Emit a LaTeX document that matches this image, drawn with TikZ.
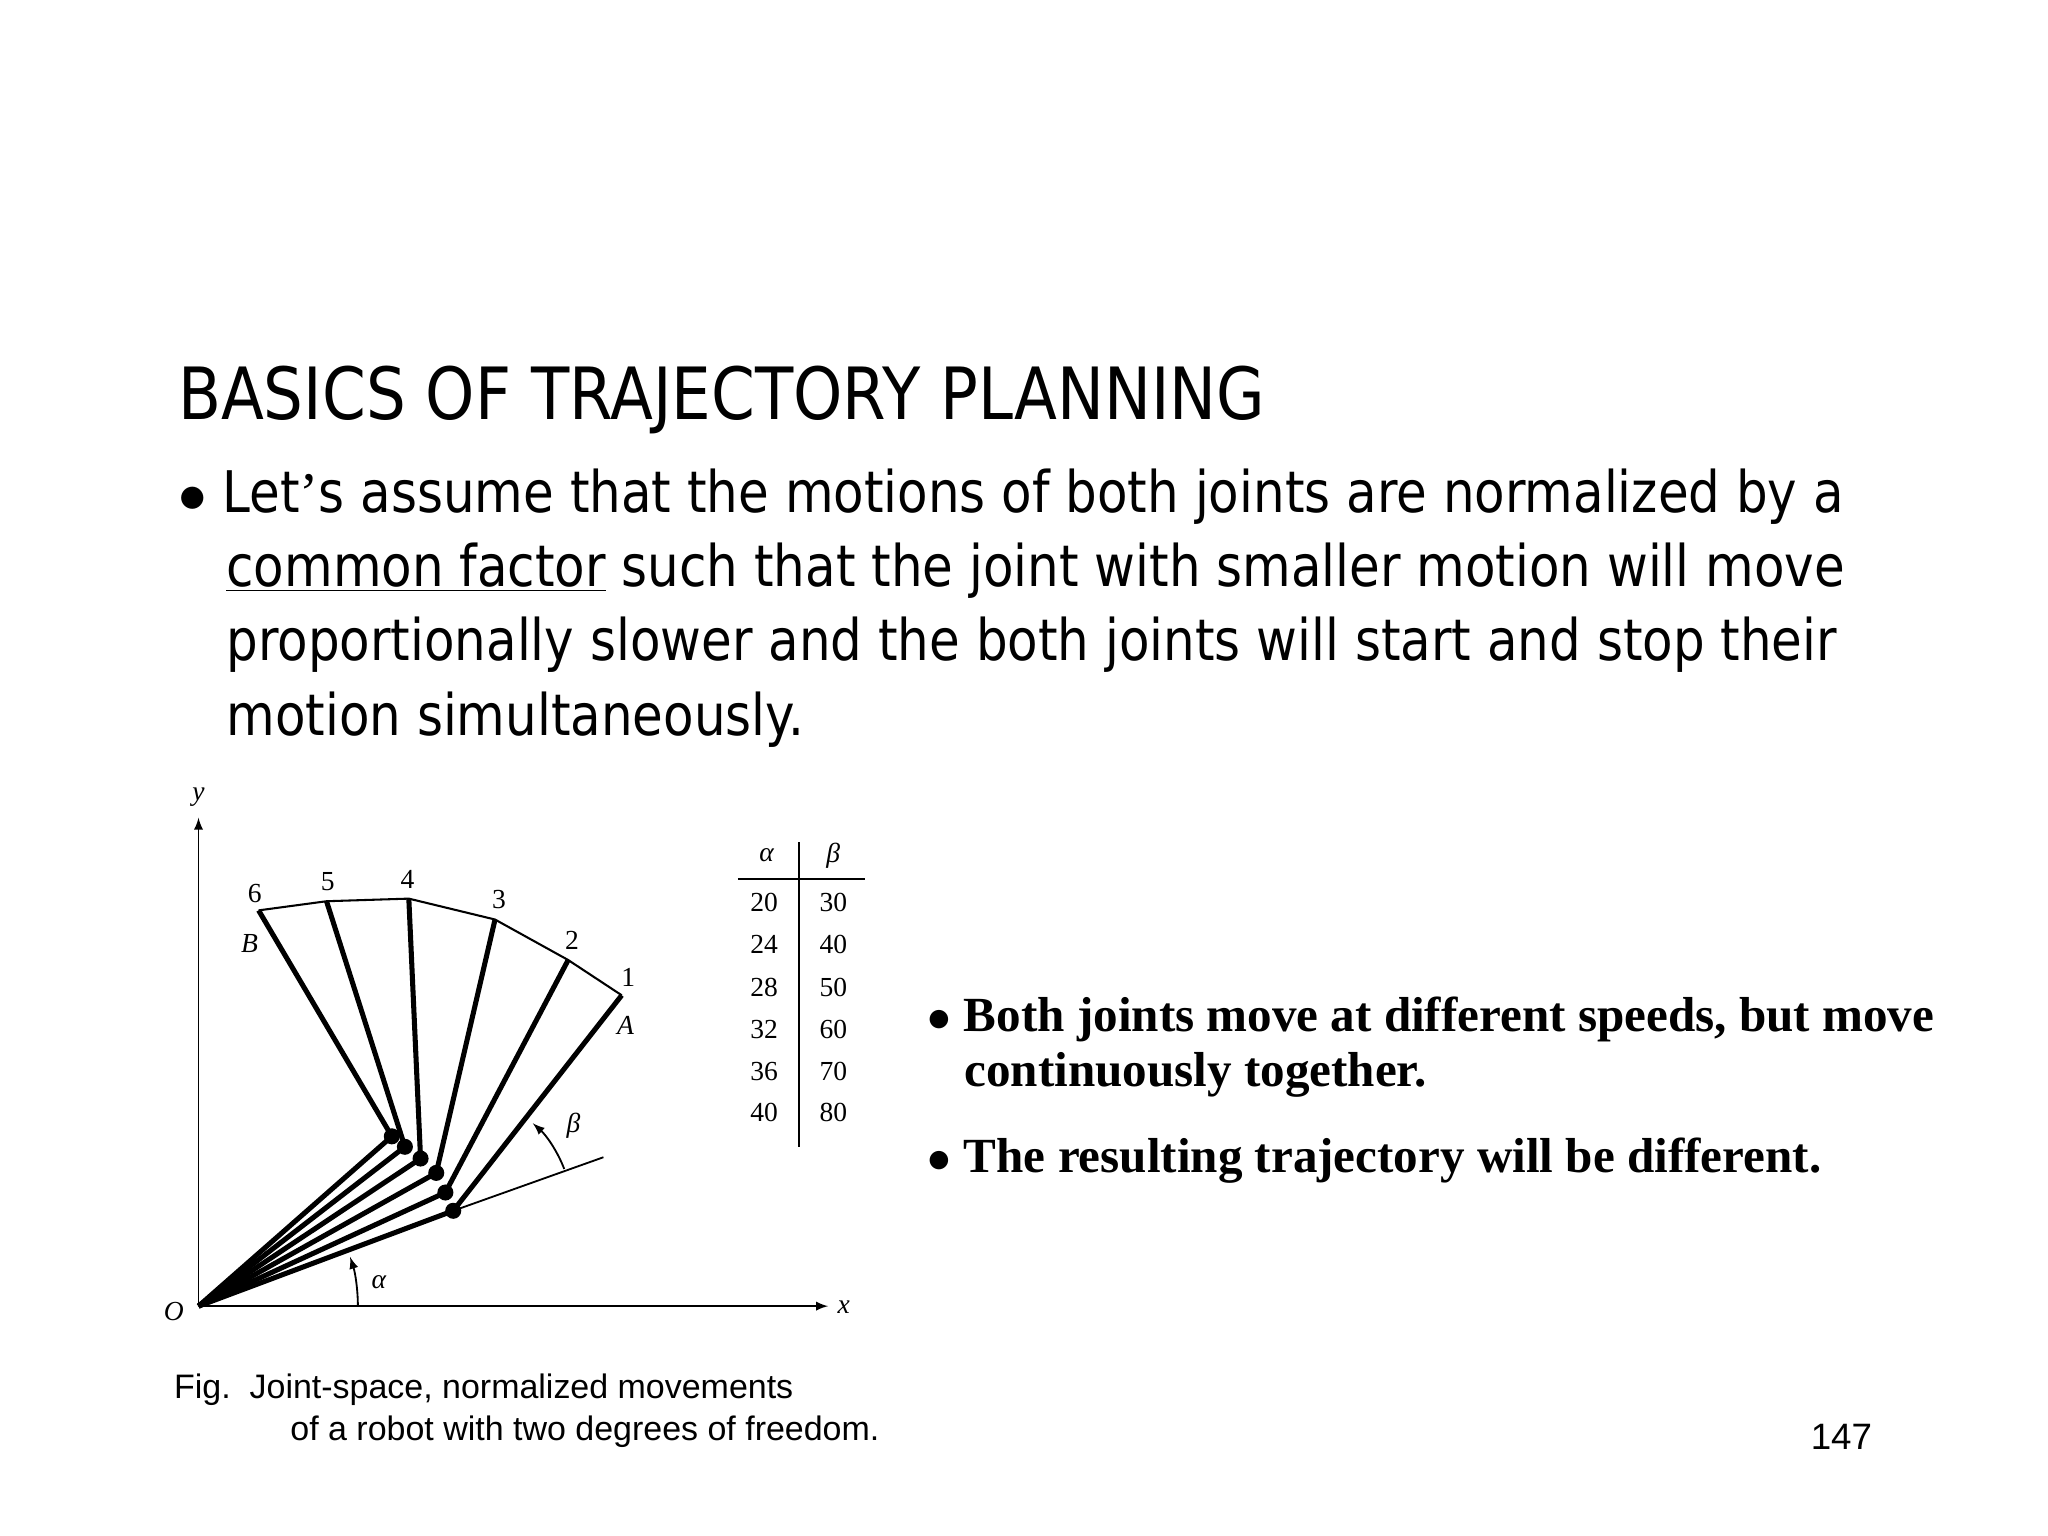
\documentclass[tikz,border=0pt]{standalone}
\usepackage{fontspec}
\setmainfont{DejaVu Sans}[FakeStretch=0.87]
\newfontfamily\tnr{Liberation Serif}
\newfontfamily\ari{Liberation Sans}
\begin{document}
\begin{tikzpicture}[x=0.02cm,y=-0.02cm,
  ln/.style={anchor=base west,inner sep=0,font=\fontsize{25}{30}\selectfont},
  lab/.style={font=\tnr\itshape\fontsize{12}{14}\selectfont,inner sep=0},
  num/.style={font=\tnr\fontsize{12}{14}\selectfont,inner sep=0},
  bt/.style={anchor=base west,inner sep=0,font=\tnr\bfseries\fontsize{21.4}{25}\selectfont},
  link/.style={line width=2.2pt},
  dot/.style={circle,fill,inner sep=0,minimum size=7pt}]
\useasboundingbox (0,0) rectangle (1568,1176);
\node[ln,font=\fontsize{31.4}{37}\selectfont] (t) at (136,321) {BASICS OF TRAJECTORY PLANNING};
\node[ln] (l1) at (136,392) {$\bullet$ Let{\tnr’}s assume that the motions of both joints are normalized by a};
\node[ln] (l2) at (173,449) {\underline{common factor} such that the joint with smaller motion will move};
\node[ln] (l3) at (173,506) {proportionally slower and the both joints will start and stop their};
\node[ln] (l4) at (173,563) {motion simultaneously.};
% axes
\coordinate (O) at (152,1000);
\coordinate (Y) at (152,626);
\coordinate (X) at (634,1000);
\draw[-latex,line width=0.8pt] (O)--(Y);
\draw[-latex,line width=0.8pt] (O)--(X);
\node[lab] at (152,610) {y};
\node[lab] at (646,1001) {x};
\node[lab] at (133,1004) {O};
% elbows and ends
\foreach \i/\ex/\ey/\px/\py in {1/347/927/476/762,2/341/913/435/735,3/334/898/379/704,4/322/887/313/688,5/310/878/250/690,6/300/870/198/697}{
  \coordinate (e\i) at (\ex,\ey);
  \coordinate (p\i) at (\px,\py);
  \draw[link] (O)--(e\i)--(p\i);
  \node[dot] at (e\i) {};
}
\draw[line width=0.9pt] (p6)--(p5)--(p4)--(p3)--(p2)--(p1);
\node[num] at (195,684) {6};
\node[num] at (251,675) {5};
\node[num] at (312,673) {4};
\node[num] at (382,689) {3};
\node[num] at (438,720) {2};
\node[num] at (481,748) {1};
\node[lab] at (191,722) {B};
\node[lab] at (479,785) {A};
% beta
\coordinate (be) at (462,886);
\draw[line width=0.8pt] (e1)--(be);
\draw[-latex,line width=0.8pt] (432,895) arc[start angle=-21,end angle=-48,radius=91];
\node[lab] at (439,862) {β};
% alpha
\draw[-latex,line width=0.8pt] (274,1000) arc[start angle=0,end angle=-18,radius=122];
\node[lab] at (290,982) {α};
% table
\draw[line width=0.8pt] (565,673)--(662,673);
\draw[line width=0.8pt] (612,645)--(612,878);
\node[lab] at (587,655) {α};
\node[lab] at (638,655) {β};
\foreach \a/\b/\y in {20/30/691,24/40/723,28/50/756,32/60/788,36/70/820,40/80/852}{
  \node[num] at (585,\y) {\a};
  \node[num] at (638,\y) {\b};
}
% right text
\node[bt] (r1) at (710,790) {$\bullet$ Both joints move at different speeds, but move};
\node[bt] (r2) at (738,832) {continuously together.};
\node[bt] (r3) at (710,898) {$\bullet$ The resulting trajectory will be different.};
% caption
\node[anchor=base west,inner sep=0,font=\ari\fontsize{14.8}{17}\selectfont] (c1) at (133,1071) {Fig.\ \ Joint-space, normalized movements};
\node[anchor=base west,inner sep=0,font=\ari\fontsize{14.8}{17}\selectfont] (c2) at (222,1103) {of a robot with two degrees of freedom.};
\node[anchor=base west,inner sep=0,font=\ari\fontsize{16}{19}\selectfont] (pg) at (1386,1110) {147};
\end{tikzpicture}
\end{document}
